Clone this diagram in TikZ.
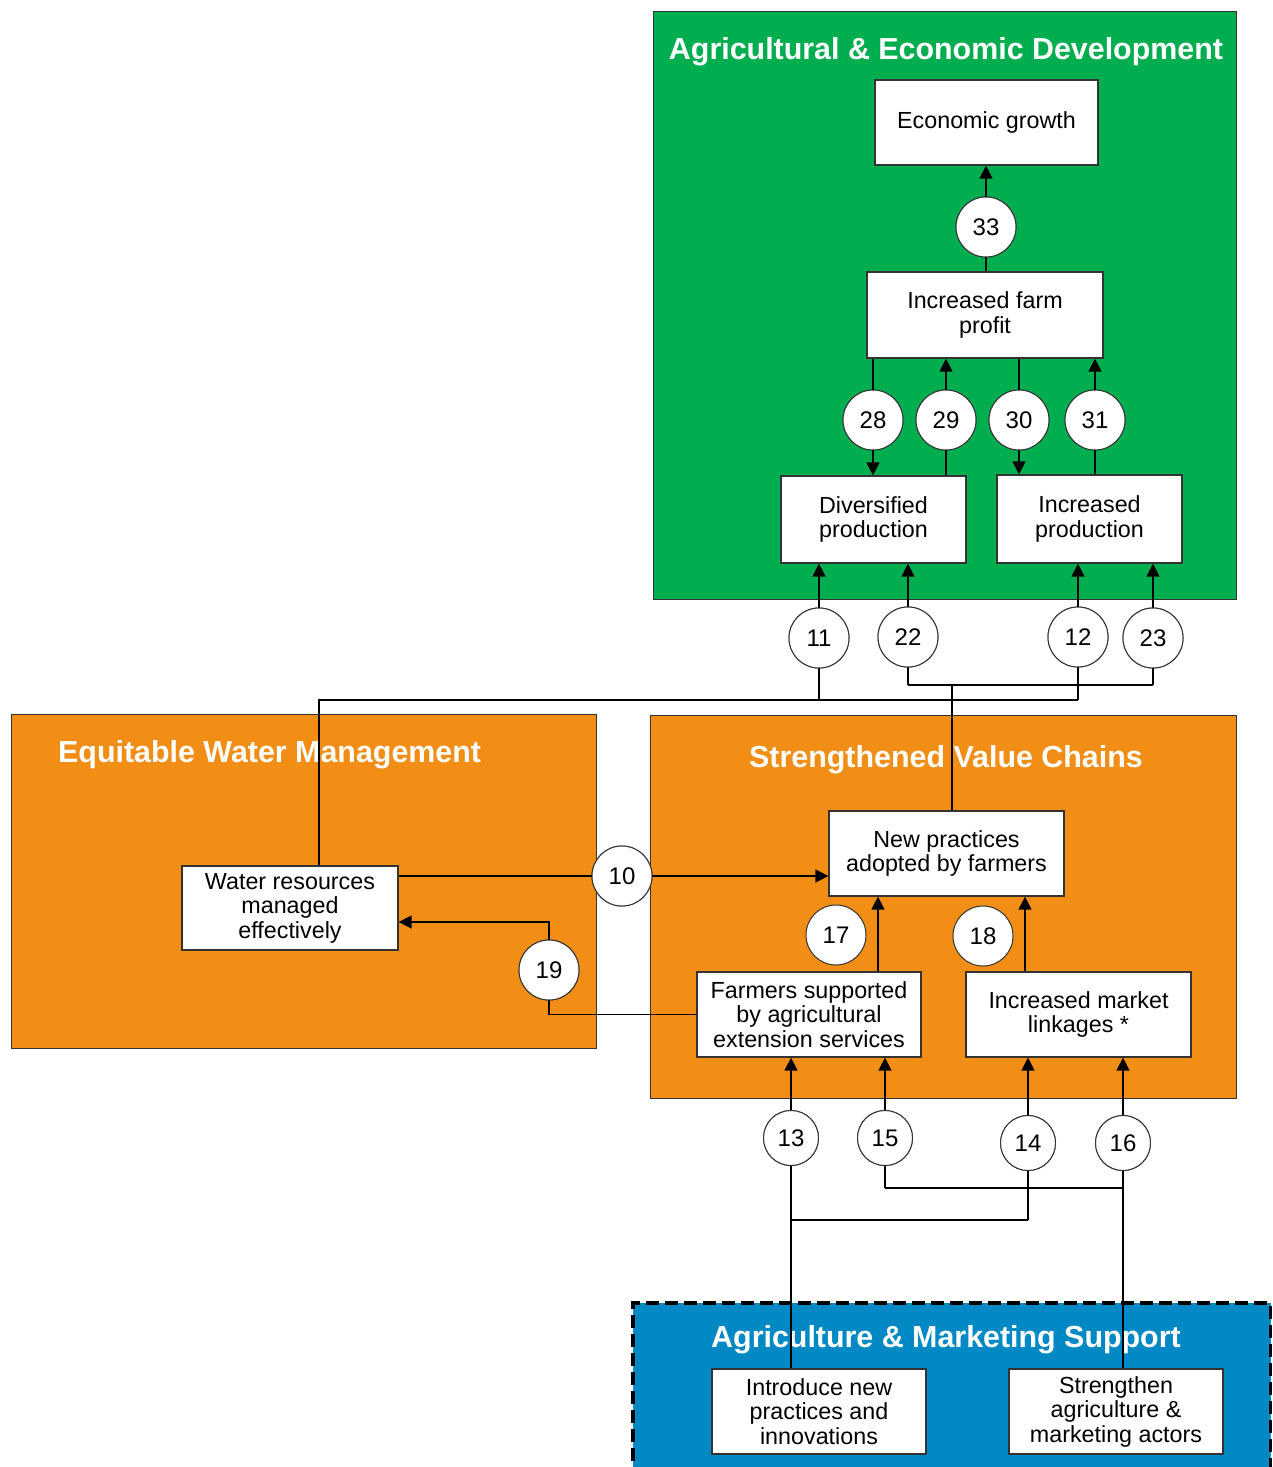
\documentclass[tikz,border=0pt]{standalone}
\usepackage{fontspec}
\setmainfont{Liberation Sans}
\usetikzlibrary{arrows.meta}
\definecolor{devgreen}{HTML}{00AE4F}
\definecolor{chainorange}{HTML}{F28D15}
\definecolor{supportblue}{HTML}{0089C4}
\definecolor{edge}{HTML}{333333}
\tikzset{
  panel/.style={draw=edge, line width=1pt},
  box/.style={draw=edge, fill=white, line width=1.2pt, align=center,
    inner sep=0pt, font=\fontsize{23.3}{24.5}\selectfont},
  num/.style={circle, draw=edge, fill=white, line width=1pt, minimum size=60pt,
    inner sep=0pt, font=\fontsize{24}{24}\selectfont},
  numsm/.style={num, minimum size=55pt},
  title/.style={text=white, inner sep=0pt, font=\bfseries\fontsize{30.4}{32}\selectfont},
  link/.style={line width=1.3pt, black},
  arr/.style={link, -{Triangle[length=13pt,width=13pt]}},
}
\begin{document}
\begin{tikzpicture}[x=1pt, y=-1pt]
\useasboundingbox (0,0) rectangle (1273,1467);

% panels
\fill[white] (0,0) rectangle (1273,1467);
\draw[panel, fill=devgreen] (653,11) rectangle (1236,599);
\draw[panel, fill=chainorange] (11,714) rectangle (596,1048);
\draw[panel, fill=chainorange] (650,715) rectangle (1236,1098);
\fill[supportblue] (633,1303) rectangle (1271,1480);
\draw[line width=3.2pt, dash pattern=on 13pt off 6pt]
  (633,1480) -- (633,1303) -- (1270.5,1303) -- (1270.5,1480);

% panel titles
\node[title, anchor=base] (tdev) at (946,59) {Agricultural \& Economic Development};
\node[title, anchor=base west] (twater) at (58,762) {Equitable Water Management};
\node[title, anchor=base] (tchain) at (946,767) {Strengthened Value Chains};
\node[title, anchor=base] (tsupport) at (946,1347) {Agriculture \& Marketing Support};

% outcome boxes
\node[box, minimum width=223pt, minimum height=85pt] (econ) at (986.5,122.5) {Economic growth};
\node[box, minimum width=236pt, minimum height=86pt] (profit) at (985,315) {Increased farm\\profit};
\node[box, minimum width=185pt, minimum height=87pt] (div) at (873.5,519.5) {Diversified\\production};
\node[box, minimum width=185pt, minimum height=88pt] (inc) at (1089.5,519) {Increased\\production};
\node[box, minimum width=216pt, minimum height=84pt] (water) at (290,908) {Water resources\\managed\\effectively};
\node[box, minimum width=235pt, minimum height=85pt] (newp) at (946.5,853.5) {New practices\\adopted by farmers};
\node[box, minimum width=224pt, minimum height=85pt] (farm) at (809,1014.5) {Farmers supported\\by agricultural\\extension services};
\node[box, minimum width=225pt, minimum height=85pt] (mkt) at (1078.5,1014.5) {Increased market\\linkages *};
\node[box, minimum width=214pt, minimum height=85pt] (intro) at (819,1411.5) {Introduce new\\practices and\\innovations};
\node[box, minimum width=214pt, minimum height=85pt] (str) at (1116,1411.5) {Strengthen\\agriculture \&\\marketing actors};

% link numbers (placed first so connectors can refer to them)
\node[num] (c33) at (986,227) {33};
\node[num] (c28) at (873,420) {28};
\node[num] (c29) at (946,420) {29};
\node[num] (c30) at (1019,420) {30};
\node[num] (c31) at (1095,420) {31};
\node[num] (c11) at (819,638) {11};
\node[num] (c22) at (908,637) {22};
\node[num] (c12) at (1078,637) {12};
\node[num] (c23) at (1153,638) {23};
\node[num] (c10) at (622,876) {10};
\node[num] (c19) at (549,970) {19};
\node[num] (c17) at (836,935) {17};
\node[num] (c18) at (983,936) {18};
\node[numsm] (c13) at (791,1138) {13};
\node[numsm] (c15) at (885,1138) {15};
\node[numsm] (c14) at (1028,1143) {14};
\node[numsm] (c16) at (1123,1143) {16};

% junction points of the elbow connectors
\coordinate (wj) at (319,700);
\coordinate (vj) at (952,685);
\coordinate (fj) at (878,900);
\coordinate (mj) at (1025,900);
\coordinate (rj) at (549,922);
\coordinate (b1) at (791,1220);
\coordinate (b2) at (1123,1188);

% connectors
\draw[arr] (c33 |- profit.north) -- (c33 |- econ.south);
\draw[arr] (c28 |- profit.south) -- (c28 |- div.north);
\draw[arr] (c29 |- div.north) -- (c29 |- profit.south);
\draw[arr] (c30 |- profit.south) -- (c30 |- inc.north);
\draw[arr] (c31 |- inc.north) -- (c31 |- profit.south);

\draw[link] (wj |- water.north) -- (wj) -- (c12 |- wj);
\draw[arr] (c11 |- wj) -- (c11 |- div.south);
\draw[arr] (c12 |- wj) -- (c12 |- inc.south);
\draw[link] (vj |- newp.north) -- (vj);
\draw[link] (c22 |- vj) -- (c23 |- vj);
\draw[arr] (c22 |- vj) -- (c22 |- div.south);
\draw[arr] (c23 |- vj) -- (c23 |- inc.south);

\draw[arr] (water.east |- c10) -- (newp.west |- c10);
\draw[arr] (farm.west) -- (rj |- farm.west) -- (rj) -- (water.east |- rj);
\draw[arr] (fj |- farm.north) -- (fj |- newp.south);
\draw[arr] (mj |- mkt.north) -- (mj |- newp.south);

\draw[arr] (b1 |- intro.north) -- (b1 |- farm.south);
\draw[link] (b1) -- (c14 |- b1);
\draw[arr] (c14 |- b1) -- (c14 |- mkt.south);
\draw[arr] (b2 |- str.north) -- (b2 |- mkt.south);
\draw[link] (b2) -- (c15 |- b2);
\draw[arr] (c15 |- b2) -- (c15 |- farm.south);

% numbers sit on top of the connectors
\foreach \c/\t in {c33/33,c28/28,c29/29,c30/30,c31/31,c11/11,c22/22,c12/12,c23/23,c10/10,c19/19}
  \node[num] at (\c) {\t};
\foreach \c/\t in {c13/13,c15/15,c14/14,c16/16}
  \node[numsm] at (\c) {\t};
\end{tikzpicture}
\end{document}
